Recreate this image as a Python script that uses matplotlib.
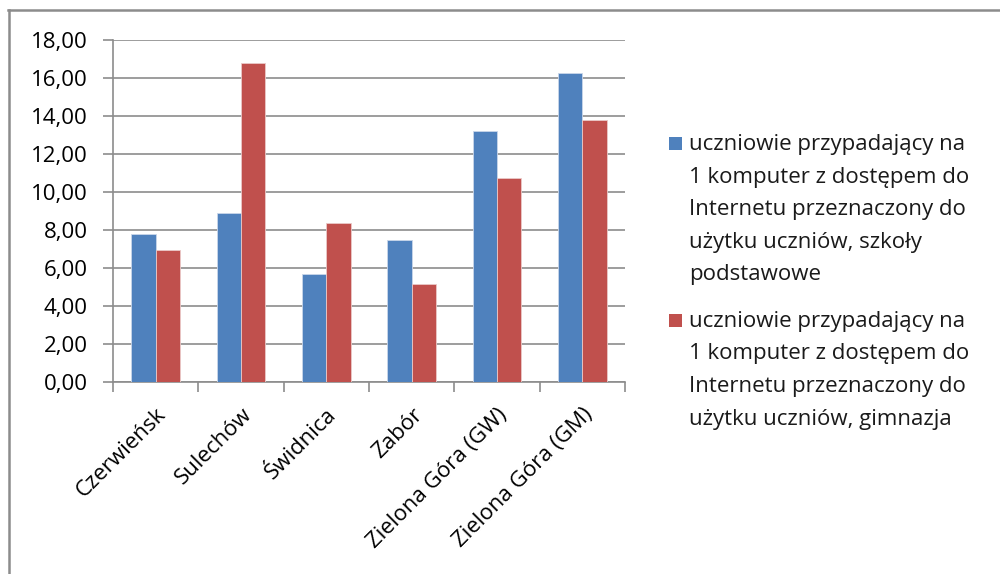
import numpy as np
import matplotlib.pyplot as plt
from matplotlib.patches import Rectangle
from matplotlib.lines import Line2D

gminy = ['Czerwieńsk', 'Sulechów', 'Świdnica', 'Zabór', 'Zielona Góra (GW)', 'Zielona Góra (GM)']
szkoly_podst = [7.81, 8.88, 5.70, 7.46, 13.21, 16.25]
gimnazja = [6.93, 16.79, 8.35, 5.16, 10.72, 13.77]
etykiety = ['uczniowie przypadający na\n1 komputer z dostępem do\nInternetu przeznaczony do\nużytku uczniów, szkoły\npodstawowe',
            'uczniowie przypadający na\n1 komputer z dostępem do\nInternetu przeznaczony do\nużytku uczniów, gimnazja']
kolory = ['#4F81BD', '#C0504D']

plt.rcParams['font.family'] = ['Open Sans', 'DejaVu Sans']
szary = '#8c8c8c'
W, H = 1000, 574

fig = plt.figure(figsize=(10, 5.74), dpi=100)
ax = fig.add_axes([113 / W, 1 - 382 / H, 512 / W, 342 / H])

x = np.arange(len(gminy))
w = 0.285
ax.bar(x - w / 2, szkoly_podst, w, color=kolory[0], edgecolor='#c9d6ea', linewidth=0.6, zorder=3)
ax.bar(x + w / 2, gimnazja, w, color=kolory[1], edgecolor='#eac9c8', linewidth=0.6, zorder=3)

ax.set_xlim(-0.5, len(gminy) - 0.5)
ax.set_ylim(0, 18)
ax.set_yticks(np.arange(0, 18.1, 2))
ax.yaxis.set_major_formatter(plt.FuncFormatter(lambda v, p: ('%.2f' % v).replace('.', ',')))
ax.grid(axis='y', color=szary, linewidth=1.2, zorder=0)

ax.set_xticks(x)
ax.set_xticklabels(gminy, rotation=45, ha='right', rotation_mode='anchor', fontsize=16)
ax.set_xticks(np.arange(-0.5, len(gminy), 1), minor=True)
ax.tick_params(axis='x', which='major', length=0, pad=16)
ax.tick_params(axis='x', which='minor', length=7, color=szary, width=1.2, direction='out')
ax.tick_params(axis='y', length=7, color=szary, width=1.2, labelsize=16, pad=11)

for s in ['top', 'right']:
    ax.spines[s].set_visible(False)
for s in ['left', 'bottom']:
    ax.spines[s].set_color(szary)
    ax.spines[s].set_linewidth(1.2)

# legenda rysowana recznie, zeby zgadzaly sie odstepy wierszy
start = [150, 327]
for i, lab in enumerate(etykiety):
    y0 = start[i]
    fig.patches.append(Rectangle((669 / W, 1 - y0 / H), 13 / W, 13 / H, transform=fig.transFigure,
                                 facecolor=kolory[i], edgecolor='none'))
    for j, line in enumerate(lab.split('\n')):
        fig.text(689 / W, 1 - (y0 + j * 32.5) / H, line, fontsize=16, va='baseline', ha='left',
                 color='#1a1a1a')

# ramka wykresu
fig.lines.append(Line2D([8 / W, 1], [1 - 10 / H, 1 - 10 / H], transform=fig.transFigure, color=szary, lw=1.8))
fig.lines.append(Line2D([9 / W, 9 / W], [0, 1 - 10 / H], transform=fig.transFigure, color=szary, lw=1.8))

fig.savefig('out.png', dpi=100)
